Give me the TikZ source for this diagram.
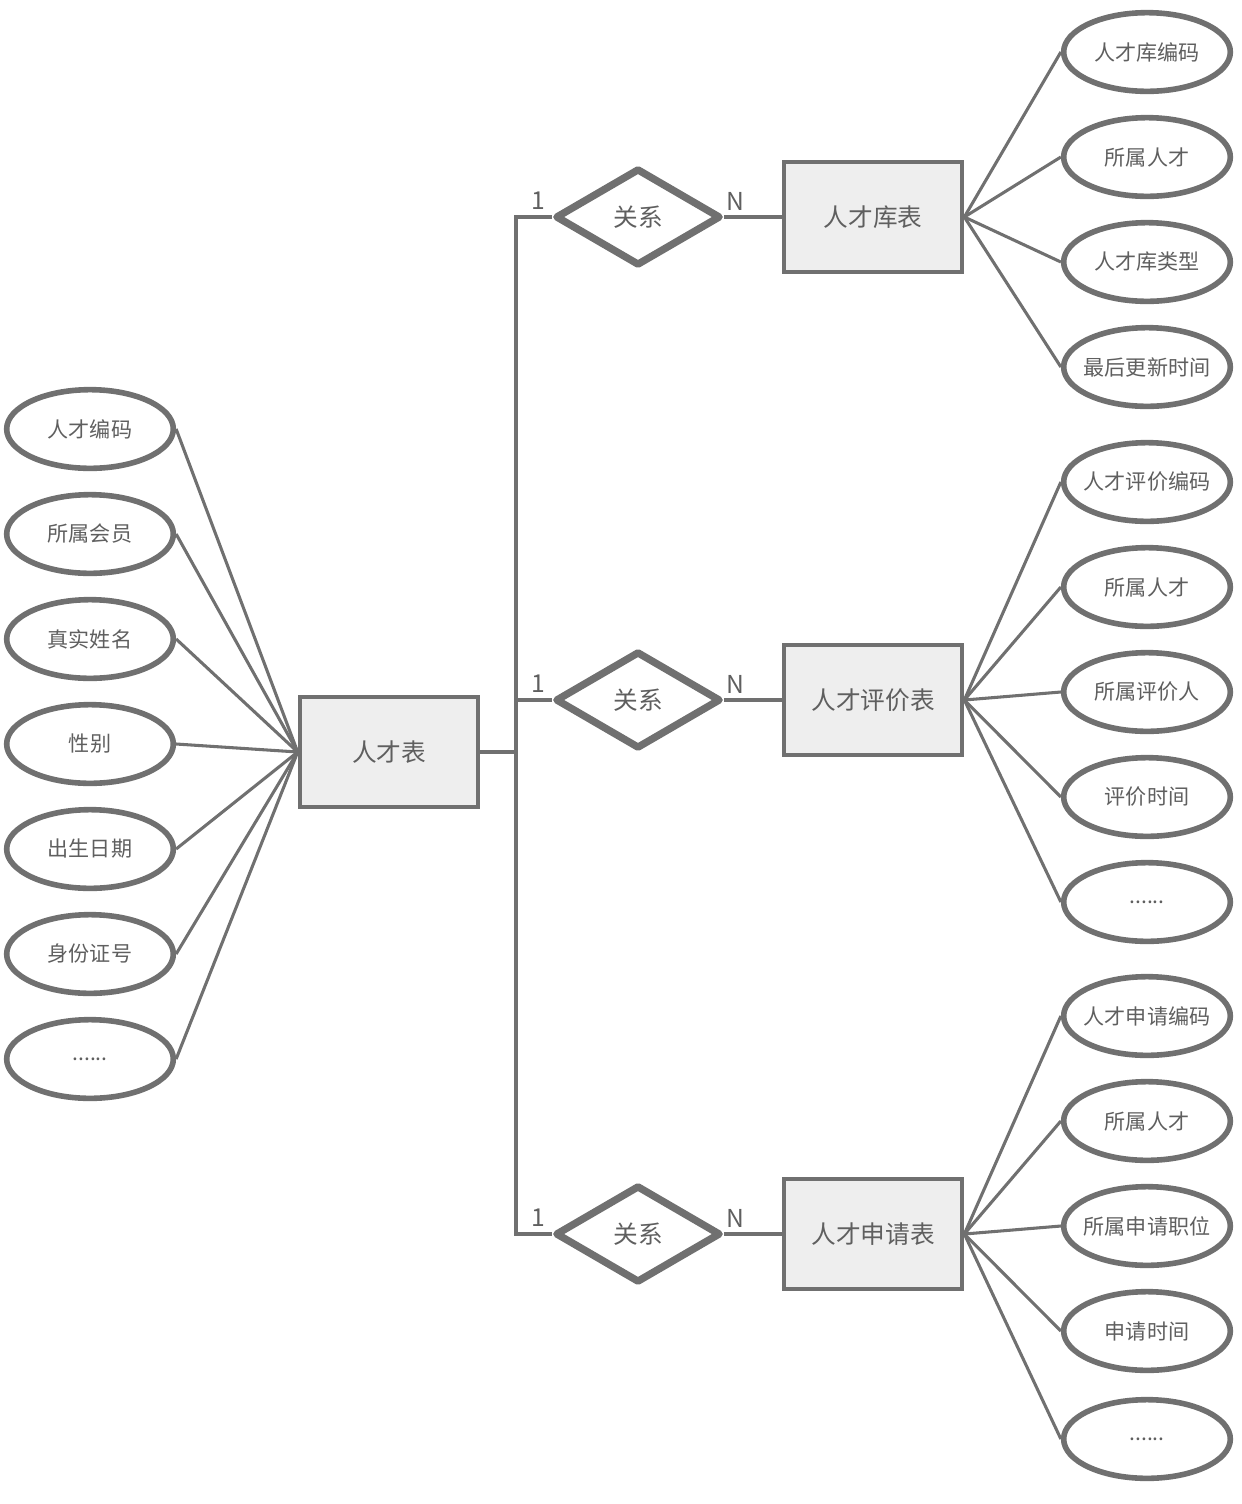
\documentclass[tikz,border=0pt]{standalone}
\usepackage{fontspec}
\setmainfont{Noto Sans CJK SC}
\usetikzlibrary{shapes.geometric}
\definecolor{erLine}{RGB}{112,112,112}
\definecolor{erText}{RGB}{95,95,95}
\definecolor{erFill}{RGB}{238,238,238}
\newcommand\erdots{......}

\begin{document}
\begin{tikzpicture}[x=0.75pt,y=-0.75pt,
  ent/.style={draw=erLine,line width=3pt,fill=erFill,minimum width=134pt,minimum height=82pt,inner sep=0pt,text=erText,font=\fontsize{18.5}{20}\selectfont},
  rel/.style={draw=erLine,line width=5.5pt,line join=round,diamond,fill=white,minimum width=124pt,minimum height=73pt,inner sep=0pt,text=erText,font=\fontsize{18.5}{20}\selectfont},
  attr/.style={draw=erLine,line width=4.2pt,ellipse,fill=white,minimum width=125pt,minimum height=59pt,inner ysep=0pt,inner xsep=-14pt,text=erText,font=\fontsize{15.8}{17}\selectfont},
  link/.style={draw=erLine,line width=2.3pt},
  card/.style={text=erText,font=\fontsize{18.5}{20}\selectfont,inner sep=0pt}]
\useasboundingbox (0,0) rectangle (1242,1504);
% entities and relations
\node[ent] (talent) at (389,752) {人才表};
\node[ent] (lib) at (873,217) {人才库表};
\node[ent] (eval) at (873,700) {人才评价表};
\node[ent] (apply) at (873,1234) {人才申请表};
\node[rel] (rel1) at (638,217) {关系};
\node[rel] (rel2) at (638,700) {关系};
\node[rel] (rel3) at (638,1234) {关系};
% bus from the talent table
\coordinate (bus) at (516,752);
\draw[link] (talent.east) -- (bus);
\draw[link] (rel1.west) -| (bus) |- (rel3.west);
\draw[link] (bus |- rel2.west) -- (rel2.west);
\foreach \r/\e in {rel1/lib,rel2/eval,rel3/apply} \draw[link] (\r.east) -- (\e.west);
\foreach \r in {rel1,rel2,rel3} {
  \node[card] (\r one) at ([xshift=-10pt,yshift=12pt]\r.west) {1};
  \node[card] (\r many) at ([xshift=8pt,yshift=12pt]\r.east) {N};
}
% attributes
\foreach \t/\y [count=\i] in {人才编码/429,所属会员/534,真实姓名/639,性别/744,出生日期/849,身份证号/954,\erdots/1059} {
  \node[attr] (ta\i) at (90,\y) {\t};
  \draw[link] (talent.west) -- (ta\i.east);
}
\foreach \t/\y [count=\i] in {人才库编码/52,所属人才/157,人才库类型/262,最后更新时间/367} {
  \node[attr] (la\i) at (1147,\y) {\t};
  \draw[link] (lib.east) -- (la\i.west);
}
\foreach \t/\y [count=\i] in {人才评价编码/482,所属人才/587,所属评价人/692,评价时间/797,\erdots/902} {
  \node[attr] (ea\i) at (1147,\y) {\t};
  \draw[link] (eval.east) -- (ea\i.west);
}
\foreach \t/\y [count=\i] in {人才申请编码/1016,所属人才/1121,所属申请职位/1226,申请时间/1331,\erdots/1439} {
  \node[attr] (pa\i) at (1147,\y) {\t};
  \draw[link] (apply.east) -- (pa\i.west);
}
\end{tikzpicture}
\end{document}
